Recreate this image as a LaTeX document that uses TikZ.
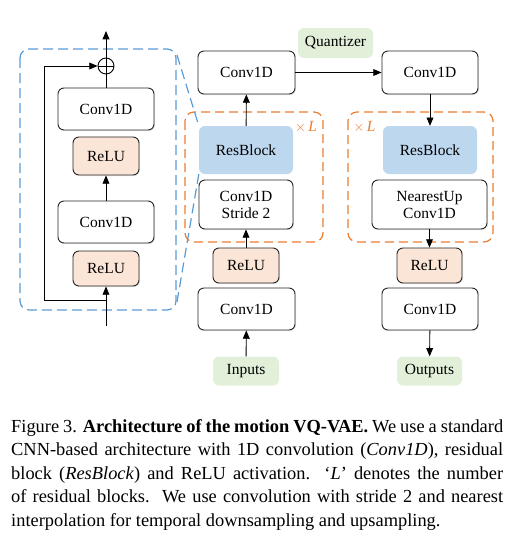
\documentclass[tikz,border=0pt]{standalone}
\usepackage{fontspec}
\setmainfont{Liberation Serif}
\usetikzlibrary{arrows}
\usetikzlibrary{shapes.geometric, positioning, calc, shadows}

\definecolor{reluc}{HTML}{FBE5D6}
\definecolor{resc}{HTML}{BDD7EE}
\definecolor{ioc}{HTML}{E2F0D9}
\definecolor{orangec}{HTML}{ED7D31}
\definecolor{bluec}{HTML}{5B9BD5}

\begin{document}
\begin{tikzpicture}[x=1pt, y=-1pt,
    font=\fontsize{15.5}{17}\selectfont,
    shade/.style={drop shadow={opacity=0.18, shadow xshift=1pt, shadow yshift=-1.2pt}},
    conv/.style={draw=black!85, line width=0.9pt, rounded corners=6pt, fill=white, shade,
      minimum width=96, minimum height=42, inner sep=0pt, align=center},
    relu/.style={conv, fill=reluc, minimum width=66, minimum height=35},
    res/.style={fill=resc, rounded corners=6pt, minimum width=94, minimum height=48, inner sep=0pt},
    io/.style={fill=ioc, rounded corners=6pt, minimum width=66, minimum height=29, inner sep=0pt},
    loopbox/.style={orangec, line width=1.2pt, dash pattern=on 9pt off 5pt, rounded corners=9pt},
    zoombox/.style={bluec, line width=1.2pt, dash pattern=on 10pt off 5pt, rounded corners=9pt},
    flow/.style={line width=0.9pt, -triangle 45}]
  \useasboundingbox (0,0) rectangle (516,547);

  % residual block
  \draw[zoombox] (20,49) rectangle (176,310);
  \node[circle, draw, line width=0.9pt, minimum size=16, inner sep=0pt] (plus) at (106,66) {};
  \draw[line width=0.8pt] (plus.north) -- (plus.south) (plus.west) -- (plus.east);
  \node[conv] (inconva) at (106,109) {Conv1D};
  \node[relu, minimum height=38] (inrelua) at (106,156) {ReLU};
  \node[conv] (inconvb) at (106,222) {Conv1D};
  \node[relu] (inrelub) at (106,268.5) {ReLU};
  \coordinate (inlow) at (106,326);
  \coordinate (inout) at (106,31);
  \coordinate (skip) at (106,300);
  \draw[line width=0.9pt] (inconva.north) -- (plus.south);
  \draw[flow] (plus.north) -- (inout);
  \draw[flow] (inconvb.north) -- (inrelua.south);
  \draw[flow] (inlow) -- (inrelub.south);
  \draw[flow] (skip) -- (44,300) -- (44,66) -- (plus.west);

  % encoder
  \node[conv, minimum width=97, minimum height=43] (enconv) at (246.5,72.5) {Conv1D};
  \node[res] (enres) at (246,150) {ResBlock};
  \node[conv, minimum width=94, minimum height=49] (endown) at (246,204.5) {Conv1D\\Stride 2};
  \node[relu] (enrelu) at (246,265.5) {ReLU};
  \node[conv, minimum width=97] (enconvin) at (246.5,309) {Conv1D};
  \node[io] (inputs) at (246,371) {Inputs};
  \draw[loopbox] (185,112) rectangle (323,242);
  \node[orangec] (enl) at (306,127) {$\times\,\textit{L}$};
  \draw[flow] (inputs) -- (enconvin);
  \draw[flow] (enrelu) -- (endown);
  \draw[flow] (enres) -- (enconv);

  % zoom lines
  \draw[zoombox, rounded corners=0pt] (177,55) -- (enres.north west);
  \draw[zoombox, rounded corners=0pt] (177,302) -- (enres.south west);

  % quantizer
  \node[io, minimum width=75, minimum height=30] (quant) at (335.5,43) {Quantizer};

  % decoder
  \node[conv, minimum height=43] (deconv) at (430,72.5) {Conv1D};
  \node[res] (deres) at (430,150) {ResBlock};
  \node[conv, minimum width=115, minimum height=49] (deup) at (429.5,204.5) {NearestUp\\Conv1D};
  \node[relu, minimum width=65] (derelu) at (429.5,265.5) {ReLU};
  \node[conv] (deconvout) at (430,309) {Conv1D};
  \node[io, minimum width=65] (outputs) at (429.5,371) {Outputs};
  \draw[loopbox] (348,112) rectangle (493,242);
  \node[orangec] (del) at (364.5,127) {$\times\,\textit{L}$};
  \draw[flow] (enconv) -- (deconv);
  \draw[flow] (deconv) -- (deres);
  \draw[flow] (deup) -- (derelu);
  \draw[flow] (deconvout) -- (outputs);

  % caption
  \node[anchor=north west, inner sep=0pt, text width=492pt, align=justify,
    font=\fontsize{18.4}{23.5}\selectfont] (caption) at (11,419)
    {\hyphenpenalty=10000
     Figure 3. \textbf{Architecture of the motion VQ-VAE.} We use a standard\linebreak
     CNN-based architecture with 1D convolution (\textit{Conv1D}), residual\linebreak
     block (\textit{ResBlock}) and ReLU activation.\ \ `\textit{L}' denotes the number\linebreak
     of residual blocks.\ \ We use convolution with stride 2 and nearest\linebreak
     interpolation for temporal downsampling and upsampling.\par};
\end{tikzpicture}
\end{document}
